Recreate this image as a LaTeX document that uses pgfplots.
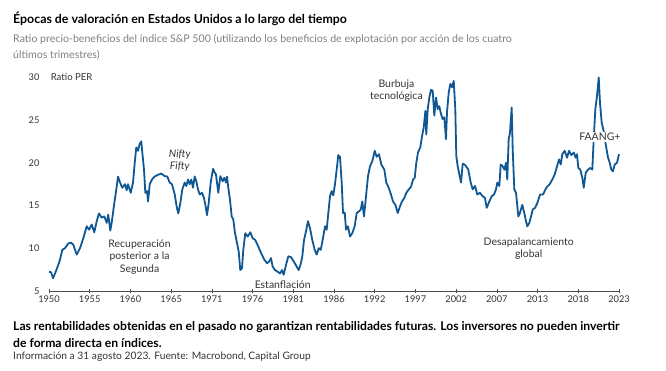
\documentclass[border=0pt]{standalone}
\usepackage{pgfplots}
\pgfplotsset{compat=1.18}
\usepackage{pgfplotstable}
\usepackage{fontspec}
\setmainfont{Lato}
\newfontfamily\lato{Lato}
\definecolor{lineblue}{RGB}{16,88,148}
\definecolor{subgray}{RGB}{128,128,128}
\definecolor{txtgray}{RGB}{51,51,51}

\pgfplotstableread{
x y
1950.00 7.30
1950.26 7.25
1950.52 6.55
1950.78 7.10
1951.12 7.90
1951.42 8.70
1951.72 9.85
1952.07 10.05
1952.49 10.60
1952.84 10.70
1953.14 10.45
1953.58 9.30
1954.01 10.05
1954.43 11.20
1954.87 12.60
1955.17 12.20
1955.52 12.80
1955.85 11.90
1956.17 13.20
1956.46 14.10
1956.81 13.60
1957.15 13.75
1957.46 13.00
1957.66 13.95
1957.92 12.10
1958.10 13.00
1958.44 15.30
1958.70 16.90
1958.92 18.40
1959.18 17.70
1959.47 17.10
1959.82 17.50
1960.04 16.80
1960.21 17.50
1960.56 16.50
1960.86 17.70
1961.08 20.00
1961.28 21.80
1961.50 21.40
1961.72 22.20
1961.93 22.50
1962.06 21.20
1962.28 19.20
1962.45 16.50
1962.67 16.70
1962.80 15.50
1963.02 17.50
1963.31 18.05
1963.66 18.40
1964.09 18.60
1964.51 18.75
1964.95 18.45
1965.29 18.40
1965.60 17.70
1965.90 17.50
1966.25 16.30
1966.50 14.90
1966.71 14.10
1966.97 15.30
1967.23 16.90
1967.54 17.70
1967.75 17.30
1967.97 18.05
1968.18 17.50
1968.39 18.05
1968.61 17.10
1968.83 18.40
1969.04 17.85
1969.26 16.90
1969.48 16.30
1969.77 16.50
1970.03 15.90
1970.25 14.90
1970.42 13.90
1970.64 15.30
1970.90 17.70
1971.20 19.30
1971.42 18.85
1971.58 18.65
1971.88 16.50
1972.14 18.45
1972.45 17.85
1972.66 18.25
1972.88 17.70
1973.01 18.40
1973.17 17.10
1973.39 15.70
1973.61 13.75
1973.82 13.40
1974.04 11.80
1974.30 10.65
1974.52 9.65
1974.72 7.50
1974.94 7.70
1975.11 9.85
1975.37 11.80
1975.68 11.40
1976.02 11.90
1976.33 11.20
1976.66 11.00
1977.05 10.25
1977.40 9.50
1977.83 8.70
1978.18 8.30
1978.47 8.50
1978.69 8.90
1978.91 7.90
1979.21 7.50
1979.56 7.30
1979.86 7.10
1980.11 7.50
1980.33 6.95
1980.63 8.10
1980.93 9.10
1981.28 9.00
1981.63 8.50
1982.01 7.90
1982.27 7.50
1982.53 8.20
1982.74 9.10
1982.96 11.00
1983.26 12.20
1983.47 13.20
1983.73 12.40
1984.03 11.00
1984.34 9.85
1984.60 9.30
1984.86 10.05
1985.12 9.85
1985.41 11.20
1985.67 12.60
1985.89 12.20
1986.10 14.15
1986.32 16.10
1986.54 16.70
1986.74 16.20
1986.96 17.50
1987.18 19.20
1987.39 20.90
1987.61 20.70
1987.83 17.70
1988.00 14.15
1988.22 14.20
1988.39 12.20
1988.64 12.60
1988.90 11.40
1989.20 11.80
1989.51 12.60
1989.77 14.15
1990.07 14.35
1990.29 14.55
1990.49 15.50
1990.71 13.75
1990.93 15.70
1991.23 18.45
1991.49 19.60
1991.79 20.20
1992.10 21.40
1992.35 20.70
1992.65 21.00
1992.95 19.80
1993.34 19.20
1993.59 17.70
1993.90 17.10
1994.20 16.30
1994.46 15.50
1994.76 15.10
1995.07 14.15
1995.33 14.85
1995.62 15.50
1995.92 15.90
1996.18 16.50
1996.49 16.90
1996.79 17.20
1997.05 18.05
1997.27 18.25
1997.47 20.00
1997.69 21.20
1997.99 21.80
1998.21 23.10
1998.43 24.10
1998.64 26.05
1998.76 23.30
1998.95 26.25
1999.15 27.60
1999.37 28.50
1999.59 28.40
1999.80 25.50
2000.02 27.60
2000.24 26.25
2000.44 26.60
2000.66 25.70
2000.88 25.10
2001.09 25.30
2001.31 22.75
2001.44 25.90
2001.66 28.20
2001.87 29.20
2002.09 28.80
2002.31 29.55
2002.51 26.25
2002.64 20.80
2002.82 19.60
2003.03 18.65
2003.25 17.70
2003.47 19.90
2003.68 19.80
2003.90 19.60
2004.19 19.20
2004.50 17.70
2004.76 16.90
2005.06 17.30
2005.36 16.30
2005.70 16.50
2006.05 16.10
2006.35 15.90
2006.57 14.75
2006.91 15.50
2007.22 16.10
2007.51 16.30
2007.77 16.90
2007.94 17.70
2008.20 17.30
2008.38 19.80
2008.64 19.60
2008.85 19.20
2009.07 20.00
2009.23 18.05
2009.41 22.75
2009.58 23.50
2009.80 26.45
2009.93 21.55
2010.14 16.90
2010.36 16.50
2010.66 13.75
2010.87 14.15
2011.17 15.10
2011.43 14.15
2011.65 13.20
2011.82 12.60
2012.08 13.00
2012.30 13.75
2012.52 14.55
2012.81 14.75
2013.11 15.30
2013.46 16.30
2013.85 16.30
2014.27 17.10
2014.71 17.50
2015.05 18.05
2015.36 18.65
2015.66 19.60
2015.92 20.40
2016.14 19.80
2016.34 21.00
2016.65 21.40
2016.95 20.60
2017.21 21.40
2017.51 20.90
2017.82 21.20
2018.07 20.60
2018.24 21.00
2018.41 19.40
2018.67 19.20
2018.93 18.25
2019.11 17.10
2019.37 18.85
2019.66 19.20
2019.96 19.40
2020.22 19.20
2020.40 22.75
2020.61 26.25
2020.83 27.80
2021.05 29.95
2021.21 27.00
2021.43 24.70
2021.69 23.70
2021.95 22.15
2022.25 20.60
2022.47 20.00
2022.68 19.20
2022.89 19.00
2023.11 19.80
2023.41 20.00
2023.67 21.00
}\petable

\begin{document}
\begin{tikzpicture}
\path[use as bounding box] (0bp,0bp) rectangle (666bp,371bp);
% titles
\node[anchor=base west,inner sep=0,font=\fontsize{12.4}{14}\selectfont\bfseries] at (13bp,347bp) {Épocas de valoración en Estados Unidos a lo largo del tiempo};
\node[anchor=base west,inner sep=0,text=subgray,font=\fontsize{10.65}{12}\selectfont] at (13bp,328bp) {Ratio precio-beneficios del índice S\&P 500 (utilizando los beneficios de explotación por acción de los cuatro};
\node[anchor=base west,inner sep=0,text=subgray,font=\fontsize{10.65}{12}\selectfont] at (13bp,312bp) {últimos trimestres)};
% footer
\node[anchor=base west,inner sep=0,font=\fontsize{12.2}{14}\selectfont\bfseries] at (13bp,40bp) {Las rentabilidades obtenidas en el pasado no garantizan rentabilidades futuras. Los inversores no pueden invertir};
\node[anchor=base west,inner sep=0,font=\fontsize{12.2}{14}\selectfont\bfseries] at (13bp,24bp) {de forma directa en índices.};
\node[anchor=base west,inner sep=0,text=txtgray,font=\fontsize{10.3}{12}\selectfont] at (13bp,12bp) {Información a 31 agosto 2023. Fuente: Macrobond, Capital Group};

\begin{axis}[
  at={(49bp,79.5bp)}, anchor=south west,
  width=570bp, height=214.5bp, scale only axis,
  xmin=1950, xmax=2023.67, ymin=5, ymax=30,
  clip=false,
  axis x line*=bottom, axis y line*=left,
  axis line style={-},
  x axis line style={draw=black!70, line width=0.6pt},
  y axis line style={draw=none},
  ytick={5,10,15,20,25,30},
  major y tick style={draw=none},
  xtick={1950,1955.262,1960.524,1965.786,1971.048,1976.31,1981.572,1986.834,1992.096,1997.358,2002.62,2007.882,2013.144,2018.406,2023.67},
  xticklabels={1950,1955,1960,1965,1971,1976,1981,1986,1992,1997,2002,2007,2013,2018,2023},
  major x tick style={draw=black!70, line width=0.6pt},
  xtick align=center,
  major tick length=4bp,
  /pgf/number format/assume math mode=true,
  tick label style={font=\lato\fontsize{9.3}{10}\selectfont, text=txtgray},
  yticklabel style={xshift=-6bp},
  xticklabel style={yshift=1bp},
]
\addplot[lineblue, line width=1.8bp, line join=round] table[x=x,y=y] {\petable};
\node[anchor=west, inner sep=0, font=\lato\fontsize{9.6}{10}\selectfont, text=txtgray] at (axis cs:1950,30) {\,Ratio PER};
\node[align=center, font=\lato\fontsize{10.5}{12.5}\selectfont, text=txtgray] at (axis cs:1961.7,9.05) {Recuperación\\posterior a la\\Segunda};
\node[align=center, font=\lato\itshape\fontsize{10.5}{12}\selectfont, text=txtgray] at (axis cs:1966.9,20.3) {Nifty\\Fifty};
\node[font=\lato\fontsize{10.5}{12}\selectfont, text=txtgray] at (axis cs:1980.2,5.8) {Estanflación};
\node[align=center, font=\lato\fontsize{10.5}{12}\selectfont, text=txtgray] at (axis cs:1994.9,28.4) {Burbuja\\tecnológica};
\node[align=center, font=\lato\fontsize{10.5}{12}\selectfont, text=txtgray] at (axis cs:2012.0,10.0) {Desapalancamiento\\global};
\node[fill=white, inner sep=1bp, font=\lato\fontsize{10.5}{12}\selectfont, text=txtgray] at (axis cs:2021.2,23.0) {FAANG+};
\end{axis}
\end{tikzpicture}
\end{document}
